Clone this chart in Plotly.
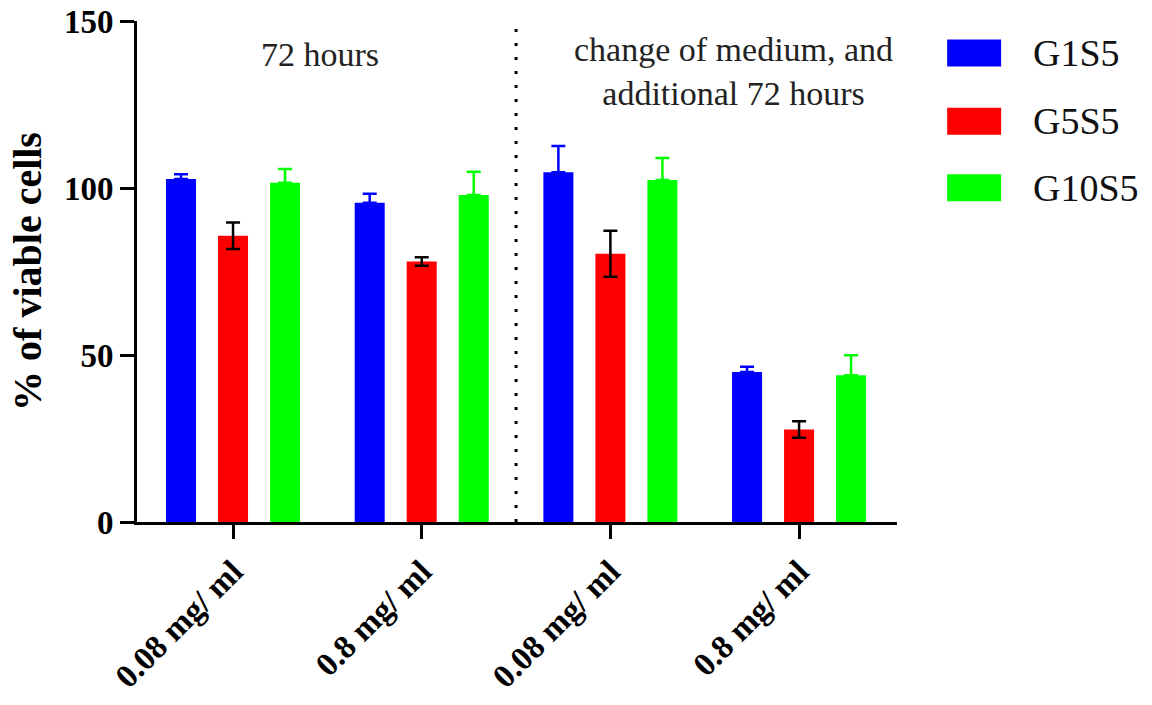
import plotly.graph_objects as go

categories = ["0.08 mg/ ml", "0.8 mg/ ml", "0.08 mg/ ml", "0.8 mg/ ml"]
series_names = ["G1S5", "G5S5", "G10S5"]
g1s5 = [102.7, 95.6, 104.7, 44.9]
g1s5_err = [1.4, 2.7, 7.9, 1.6]
g5s5 = [85.7, 78.0, 80.3, 27.7]
g5s5_err = [4.0, 1.3, 6.9, 2.5]
g10s5 = [101.6, 97.9, 102.4, 43.9]
g10s5_err = [4.1, 7.0, 6.6, 6.0]
y_ticks = [0, 50, 100, 150]

colors = ["#0000ff", "#ff0000", "#00ff00"]
x = list(range(len(categories)))
FONT = "'Liberation Serif', 'DejaVu Serif', serif"

fig = go.Figure()
fig.add_trace(go.Bar(
    x=x, y=g1s5, name=series_names[0], marker=dict(color=colors[0], line=dict(width=0)),
    error_y=dict(type="data", symmetric=False, array=g1s5_err, arrayminus=[0] * 4,
                 color=colors[0], thickness=2.5, width=7)))
fig.add_trace(go.Bar(
    x=x, y=g5s5, name=series_names[1], marker=dict(color=colors[1], line=dict(width=0)),
    error_y=dict(type="data", array=g5s5_err, color="black", thickness=2.5, width=7)))
fig.add_trace(go.Bar(
    x=x, y=g10s5, name=series_names[2], marker=dict(color=colors[2], line=dict(width=0)),
    error_y=dict(type="data", symmetric=False, array=g10s5_err, arrayminus=[0] * 4,
                 color=colors[2], thickness=2.5, width=7)))

# Dotted separator between time points
fig.add_shape(type="line", xref="x", yref="y", x0=1.5, x1=1.5, y0=0, y1=148,
              line=dict(color="black", width=3, dash="3px,11px"))

# Group annotations
fig.add_annotation(x=0.46, y=140, xref="x", yref="y", text="72 hours", showarrow=False,
                   font=dict(family=FONT, size=34, color="#222"))
fig.add_annotation(x=2.65, y=135, xref="x", yref="y",
                   text="change of medium, and<br>additional 72 hours", showarrow=False,
                   font=dict(family=FONT, size=34, color="#222"))

# Custom legend (large swatches)
leg_y = [0.936, 0.800, 0.667]
for name, col, yy in zip(series_names, colors, leg_y):
    fig.add_shape(type="rect", xref="paper", yref="paper", x0=1.066, x1=1.137,
                  y0=yy - 0.027, y1=yy + 0.027, fillcolor=col, line=dict(width=0))
    fig.add_annotation(xref="paper", yref="paper", x=1.176, y=yy, xanchor="left",
                       yanchor="middle", text=name, showarrow=False,
                       font=dict(family=FONT, size=38, color="#111"))

fig.update_layout(
    width=1152, height=705,
    margin=dict(l=137, r=255, t=21, b=183),
    plot_bgcolor="white", paper_bgcolor="white",
    barmode="group", bargap=0.173, bargroupgap=0.423,
    showlegend=False,
    font=dict(family=FONT, color="black"),
)
fig.update_xaxes(
    range=[-0.509, 3.519], tickmode="array", tickvals=x, ticktext=categories,
    tickangle=-45, showline=True, linecolor="black", linewidth=3,
    ticks="outside", ticklen=14, tickwidth=3, tickcolor="black",
    tickfont=dict(family=FONT, size=33, weight="bold", color="black"),
    showgrid=False, zeroline=False, automargin=False,
)
fig.update_yaxes(
    range=[0, 150], tickmode="array", tickvals=y_ticks,
    showline=True, linecolor="black", linewidth=3,
    ticks="outside", ticklen=14, tickwidth=3, tickcolor="black",
    tickfont=dict(family=FONT, size=33, weight="bold", color="black"),
    title=dict(text="% of viable cells", font=dict(family=FONT, size=40, weight="bold", color="black"),
               standoff=10),
    showgrid=False, zeroline=False, automargin=False,
)

fig.write_html("out.html")
